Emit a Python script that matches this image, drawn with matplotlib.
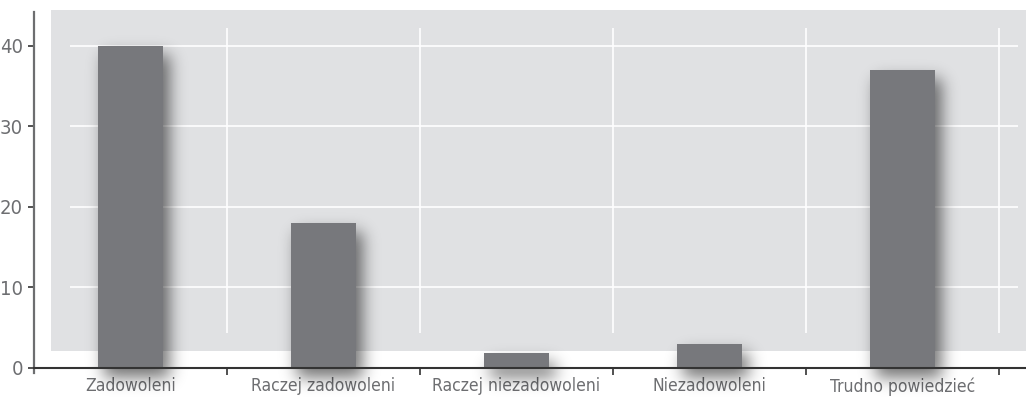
import math
import numpy as np
import matplotlib
matplotlib.use("Agg")
import matplotlib.pyplot as plt
from matplotlib.patches import Rectangle
from matplotlib.font_manager import FontProperties

# --- data -------------------------------------------------------------
categories = ["Zadowoleni", "Raczej zadowoleni", "Raczej niezadowoleni",
              "Niezadowoleni", "Trudno powiedzieć"]
values = [40, 18, 1.8, 3, 37]
y_ticks = [0, 10, 20, 30, 40]

# --- style ------------------------------------------------------------
BAR_COLOR = "#77787c"
PANEL_COLOR = "#e0e1e3"
TEXT_COLOR = "#6d6e71"
x_font = FontProperties(family="DejaVu Sans", stretch="condensed", size=12.5)
y_font = FontProperties(family="DejaVu Sans", stretch="condensed", size=14.5)

W, H, DPI = 1026, 401, 100
fig = plt.figure(figsize=(W / DPI, H / DPI), dpi=DPI)
fig.patch.set_facecolor("white")

left_px, bottom_px, top_px = 34, 367.7, 11.7
ax = fig.add_axes([left_px / W, (H - bottom_px) / H,
                   1 - left_px / W, (bottom_px - top_px) / H])
ax.set_facecolor("none")

n = len(categories)
x = np.arange(n)
ax.set_xlim(-0.5, n - 0.36)
ax.set_ylim(0, 44.2)

# light grey backdrop panel behind the plot
ax.add_patch(Rectangle((-0.41, 2.07), n - 0.36 + 0.41, 44.4 - 2.07,
                       facecolor=PANEL_COLOR, edgecolor="none",
                       zorder=0, clip_on=False))

# white grid lines drawn inside the panel
ax.hlines(y_ticks[1:], -0.316, n - 0.404, colors="white", lw=1.2, zorder=1)
ax.vlines(x + 0.5, 4.3, 42.2, colors="white", lw=1.2, zorder=1)

bars = ax.bar(x, values, width=0.34, color=BAR_COLOR, zorder=3)


def blurred_box(coords, lo, hi, sigma):
    s = sigma * math.sqrt(2)
    erf = np.vectorize(math.erf)
    return 0.5 * (erf((coords - lo) / s) - erf((coords - hi) / s))


# soft drop shadow offset to the lower right of every bar
dx, dy, sigma, alpha_max = 6.0, 10.0, 8.0, 0.55
inv = ax.transData.inverted()
for patch in bars:
    bb = patch.get_window_extent()
    x0, x1 = bb.x0 + dx, bb.x1 + dx
    y0, y1 = bb.y0 - dy, bb.y1 - dy
    pad = 3.5 * sigma
    gx = np.arange(x0 - pad, x1 + pad, 1.0) + 0.5
    gy = np.arange(y0 - pad, y1 + pad, 1.0) + 0.5
    a = np.outer(blurred_box(gy, y0, y1, sigma), blurred_box(gx, x0, x1, sigma))
    rgba = np.zeros(a.shape + (4,))
    rgba[..., 3] = alpha_max * a
    (dx0, dy0) = inv.transform((gx[0] - 0.5, gy[0] - 0.5))
    (dx1, dy1) = inv.transform((gx[-1] + 0.5, gy[-1] + 0.5))
    ax.imshow(rgba, extent=(dx0, dx1, dy0, dy1), origin="lower",
              interpolation="bilinear", aspect="auto", zorder=2, clip_on=False)

ax.set_xlim(-0.5, n - 0.36)
ax.set_ylim(0, 44.2)

# axes, ticks and labels
for side in ("top", "right"):
    ax.spines[side].set_visible(False)
ax.spines["left"].set_color("#6d6e70")
ax.spines["left"].set_linewidth(1.6)
ax.spines["left"].set_bounds(-0.6, 44.2)
ax.spines["bottom"].set_color("#333333")
ax.spines["bottom"].set_linewidth(1.5)
ax.spines["bottom"].set_zorder(4)

ax.set_yticks(y_ticks)
ax.set_yticklabels([str(v) for v in y_ticks], fontproperties=y_font,
                   color=TEXT_COLOR)
ax.tick_params(axis="y", direction="out", length=4, width=1.2,
               color="#333333", pad=4)

ax.set_xticks(x)
ax.set_xticklabels(categories, fontproperties=x_font, color=TEXT_COLOR)
ax.set_xticks(list(x + 0.5), minor=True)
ax.tick_params(axis="x", which="major", length=0, pad=7)
ax.tick_params(axis="x", which="minor", direction="out", length=5,
               width=1.2, color="#333333")

fig.savefig("out.png", dpi=DPI)
